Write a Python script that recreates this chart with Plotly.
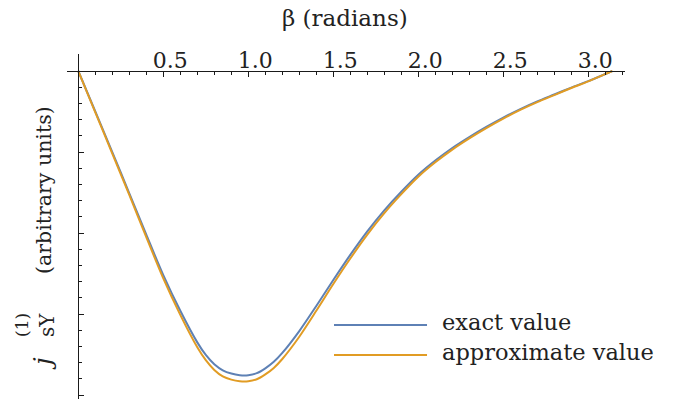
import plotly.graph_objects as go

# beta (radians) sample points
beta = [0.0, 0.1, 0.2, 0.3, 0.4, 0.5, 0.6, 0.7, 0.75, 0.8, 0.85, 0.9, 0.95,
        1.0, 1.05, 1.1, 1.15, 1.2, 1.3, 1.4, 1.5, 1.6, 1.7, 1.8, 1.9, 2.0,
        2.1, 2.2, 2.3, 2.4, 2.5, 2.6, 2.7, 2.8, 2.9, 3.0, 3.1, 3.1416]

# exact current j_sY^(1) (arbitrary units)
exact = [0.0, -0.50, -1.00, -1.51, -2.02, -2.52, -2.96, -3.35, -3.505, -3.62,
         -3.695, -3.735, -3.755, -3.755, -3.73, -3.67, -3.59, -3.48, -3.21, -2.90,
         -2.58, -2.27, -1.98, -1.72, -1.49, -1.28, -1.105, -0.95, -0.815,
         -0.69, -0.575, -0.47, -0.375, -0.29, -0.205, -0.125, -0.037, 0.0]

# approximate current j_sY^(1) (arbitrary units)
approx = [0.0, -0.51, -1.02, -1.53, -2.05, -2.56, -3.01, -3.41, -3.57, -3.69,
          -3.77, -3.81, -3.83, -3.83, -3.805, -3.745, -3.665, -3.555, -3.28,
          -2.96, -2.63, -2.315, -2.02, -1.755, -1.52, -1.305, -1.127, -0.97,
          -0.832, -0.705, -0.588, -0.481, -0.384, -0.297, -0.21, -0.128,
          -0.038, 0.0]

x_tickvals = [0.5, 1.0, 1.5, 2.0, 2.5, 3.0]
x_ticktext = ["0.5", "1.0", "1.5", "2.0", "2.5", "3.0"]

X_RANGE = [-0.0665, 3.216]
Y_RANGE = [-4.049, 0.21]

BLUE = "#5E81B5"
ORANGE = "#E19C24"
AXIS = "#1a1a1a"
TEXT = "#222222"
FONT = "DejaVu Serif"

fig = go.Figure()
fig.add_trace(go.Scatter(x=beta, y=exact, mode="lines", name="exact value",
                         line=dict(color=BLUE, width=2, shape="spline", smoothing=0.8)))
fig.add_trace(go.Scatter(x=beta, y=approx, mode="lines", name="approximate value",
                         line=dict(color=ORANGE, width=2, shape="spline", smoothing=0.8)))

# axes cross at the origin
x_pos = (0 - Y_RANGE[0]) / (Y_RANGE[1] - Y_RANGE[0])
y_pos = (0 - X_RANGE[0]) / (X_RANGE[1] - X_RANGE[0])

fig.update_layout(
    width=680, height=401,
    margin=dict(l=67, r=55, t=54, b=2),
    paper_bgcolor="white", plot_bgcolor="white",
    showlegend=False,
    font=dict(family=FONT, color=TEXT),
    xaxis=dict(
        range=X_RANGE, anchor="free", position=x_pos, side="top",
        showgrid=False, zeroline=False,
        showline=True, linecolor=AXIS, linewidth=1.3,
        tickmode="array", tickvals=x_tickvals, ticktext=x_ticktext,
        ticks="inside", ticklen=5, tickwidth=1, tickcolor=AXIS,
        ticklabelshift=7, ticklabelstandoff=-6,
        tickfont=dict(family=FONT, size=22, color=TEXT),
        minor=dict(tickmode="linear", tick0=0, dtick=0.1, ticks="inside",
                   ticklen=3, tickwidth=1, tickcolor=AXIS),
    ),
    yaxis=dict(
        range=Y_RANGE, anchor="free", position=y_pos,
        showgrid=False, zeroline=False,
        showline=True, linecolor=AXIS, linewidth=1.3,
        tickmode="linear", tick0=0, dtick=1,
        ticks="inside", ticklen=5, tickwidth=1, tickcolor=AXIS,
        showticklabels=False,
        minor=dict(tickmode="linear", tick0=0, dtick=0.2, ticks="inside",
                   ticklen=3, tickwidth=1, tickcolor=AXIS),
    ),
)

# axis titles
fig.add_annotation(text="β (radians)", xref="paper", yref="paper",
                   x=0.498, y=1.104, xanchor="center", yanchor="middle",
                   showarrow=False, font=dict(family=FONT, size=23, color=TEXT))
fig.add_annotation(text="(arbitrary units)", xref="paper", yref="paper",
                   x=0, y=0.606, xshift=-23, xanchor="center", yanchor="middle",
                   showarrow=False, textangle=-90,
                   font=dict(family=FONT, size=20.5, color=TEXT))
fig.add_annotation(text="<i>j</i>", xref="paper", yref="paper",
                   x=0, y=0.122, xshift=-24, yshift=-7, xanchor="center",
                   yanchor="middle", showarrow=False, textangle=-90,
                   font=dict(family=FONT, size=25, color=TEXT))
fig.add_annotation(text="sY", xref="paper", yref="paper",
                   x=0, y=0.2145, xshift=-20, xanchor="center", yanchor="middle",
                   showarrow=False, textangle=-90,
                   font=dict(family=FONT, size=20, color=TEXT))
fig.add_annotation(text="(1)", xref="paper", yref="paper",
                   x=0, y=0.2145, xshift=-45, xanchor="center", yanchor="middle",
                   showarrow=False, textangle=-90,
                   font=dict(family=FONT, size=17, color=TEXT))

# legend drawn inside the plot area
legend_items = [("exact value", BLUE, 0.2145), ("approximate value", ORANGE, 0.1275)]
for label, color, ypos in legend_items:
    fig.add_shape(type="line", xref="paper", yref="paper",
                  x0=0.4785, x1=0.6452, y0=ypos, y1=ypos,
                  line=dict(color=color, width=2))
    fig.add_annotation(text=label, xref="paper", yref="paper",
                       x=0.6685, y=ypos, yshift=3, xanchor="left", yanchor="middle",
                       showarrow=False, font=dict(family=FONT, size=22.5, color=TEXT))

fig.write_html("out.html")
